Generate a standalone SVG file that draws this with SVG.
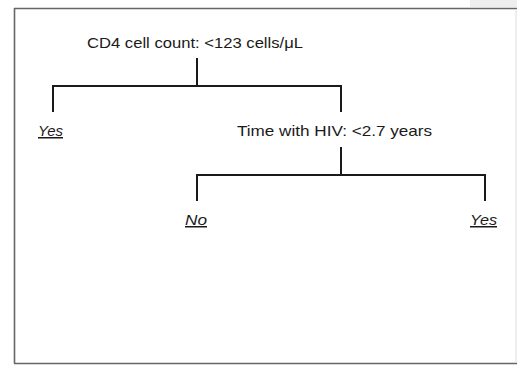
<svg xmlns="http://www.w3.org/2000/svg" width="517" height="367" viewBox="0 0 517 367">
<style>
.t{font-family:"Liberation Sans",Arial,sans-serif;font-size:15px;fill:#1a1a1a}
.leaf{font-style:italic;text-decoration:underline}
.c{fill:none;stroke:#1a1a1a;stroke-width:2}
.frame{fill:none;stroke:#666;stroke-width:1.6}
</style>
<rect x="0" y="0" width="517" height="367" fill="#fff"/>
<rect x="470" y="0" width="47" height="7" fill="#eeeeee"/>
<path class="frame" d="M14 8.5H517M14.5 8V363.5M14 363.5H517"/>
<line x1="516" y1="9" x2="516" y2="363" stroke="#ddd" stroke-width="1"/>
<g id="connectors">
<path class="c" d="M197 58V86M53 112V86H341V112"/>
<path class="c" d="M341 147V175M197 201V175H485V201"/>
</g>
<g id="n1"><text class="t" x="87" y="48" textLength="216" lengthAdjust="spacingAndGlyphs">CD4 cell count: &lt;123 cells/μL</text></g>
<g id="n2"><text class="t leaf" x="38" y="136" textLength="25" lengthAdjust="spacingAndGlyphs">Yes</text></g>
<g id="n3"><text class="t" x="237" y="136" textLength="195" lengthAdjust="spacingAndGlyphs">Time with HIV: &lt;2.7 years</text></g>
<g id="n4"><text class="t leaf" x="185" y="225" textLength="22" lengthAdjust="spacingAndGlyphs">No</text></g>
<g id="n5"><text class="t leaf" x="470" y="225" textLength="27" lengthAdjust="spacingAndGlyphs">Yes</text></g>
</svg>
